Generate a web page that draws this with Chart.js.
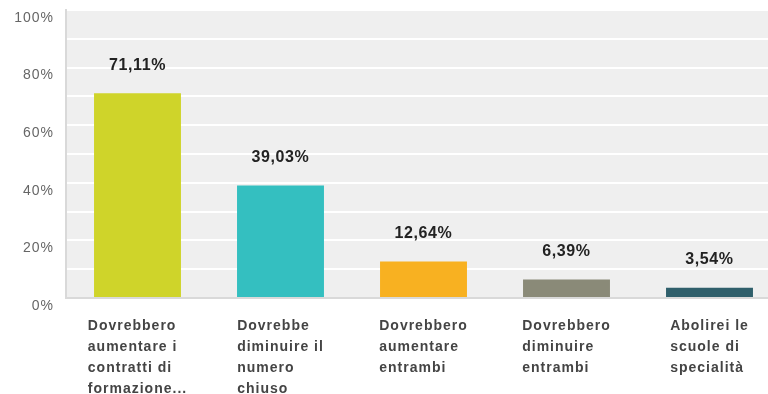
<!DOCTYPE html>
<html>
<head>
<meta charset="utf-8">
<script src="https://cdn.jsdelivr.net/npm/chart.js@4"></script>
<style>
    html, body { margin: 0; padding: 0; background: #fff; overflow: hidden; }
    #wrap { width: 781px; height: 394px; }
</style>
</head>
<body>
<div id="wrap"><canvas id="myChart"></canvas></div>
<script>
    const categories = [
        ['Dovrebbero', 'aumentare i', 'contratti di', 'formazione...'],
        ['Dovrebbe', 'diminuire il', 'numero', 'chiuso'],
        ['Dovrebbero', 'aumentare', 'entrambi'],
        ['Dovrebbero', 'diminuire', 'entrambi'],
        ['Abolirei le', 'scuole di', 'specialità']
    ];
    const percentages = [71.11, 39.03, 12.64, 6.39, 3.54];
    const colors = ['#cfd42a', '#34bfc0', '#f8b121', '#8a8a78', '#2f5f6b'];
    const yTicks = [0, 20, 40, 60, 80, 100];

    const fmt = v => v.toFixed(2).replace('.', ',') + '%';

    // grey plot background behind the grid
    const plotBackground = {
        id: 'plotBackground',
        beforeDraw(chart) {
            const { ctx, chartArea } = chart;
            ctx.save();
            ctx.fillStyle = '#efefef';
            ctx.fillRect(chartArea.left, chartArea.top, chartArea.right - chartArea.left, chartArea.bottom - chartArea.top);
            ctx.restore();
        }
    };

    // y labels sit a little below their grid line, x labels are left-aligned blocks centred under the bar
    const axisLabels = {
        id: 'axisLabels',
        afterDraw(chart) {
            const { ctx, chartArea, scales } = chart;
            ctx.save();
            ctx.font = '14px "Liberation Sans", Arial, sans-serif';
            ctx.letterSpacing = '1px';
            ctx.fillStyle = '#666';
            ctx.textAlign = 'right';
            ctx.textBaseline = 'middle';
            yTicks.forEach(t => {
                ctx.fillText(t + '%', chartArea.left - 12, scales.y.getPixelForValue(t) + 8);
            });

            ctx.font = 'bold 14px "Liberation Sans", Arial, sans-serif';
            ctx.letterSpacing = '1px';
            ctx.fillStyle = '#444';
            ctx.textAlign = 'left';
            categories.forEach((lines, i) => {
                const cx = scales.x.getPixelForValue(i);
                const w = Math.max(...lines.map(l => ctx.measureText(l).width));
                lines.forEach((l, j) => {
                    ctx.fillText(l, cx - w / 2, chartArea.bottom + 28 + j * 21);
                });
            });
            ctx.restore();
        }
    };

    const valueLabels = {
        id: 'valueLabels',
        afterDatasetsDraw(chart) {
            const { ctx } = chart;
            const meta = chart.getDatasetMeta(0);
            ctx.save();
            ctx.font = 'bold 16px "Liberation Sans", Arial, sans-serif';
            ctx.letterSpacing = '0.6px';
            ctx.fillStyle = '#222';
            ctx.textAlign = 'center';
            ctx.textBaseline = 'middle';
            meta.data.forEach((bar, i) => {
                ctx.fillText(fmt(percentages[i]), bar.x, bar.y - 28);
            });
            ctx.restore();
        }
    };

    new Chart(document.getElementById('myChart'), {
        type: 'bar',
        data: {
            labels: categories.map(c => c.join(' ')),
            datasets: [{
                data: percentages,
                backgroundColor: colors,
                borderWidth: 0,
                categoryPercentage: 1,
                barPercentage: 0.608
            }]
        },
        options: {
            responsive: true,
            maintainAspectRatio: false,
            animation: false,
            layout: { padding: { left: 66, top: 10, bottom: 88, right: 0 } },
            plugins: {
                legend: { display: false },
                tooltip: { enabled: false }
            },
            scales: {
                x: {
                    grid: { display: false },
                    ticks: { display: false },
                    border: { display: true, color: '#d9d9d9', width: 2 }
                },
                y: {
                    min: 0,
                    max: 100,
                    ticks: { display: false, stepSize: 10 },
                    grid: { color: '#ffffff', lineWidth: 2, drawTicks: false },
                    border: { display: true, color: '#d9d9d9', width: 2 }
                }
            }
        },
        plugins: [plotBackground, axisLabels, valueLabels]
    });
</script>
</body>
</html>
